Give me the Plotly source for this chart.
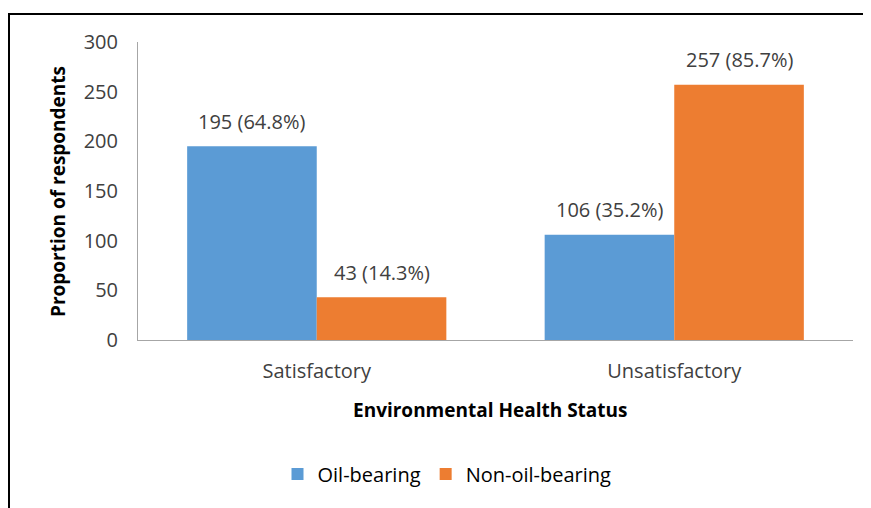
import plotly.graph_objects as go

categories = ["Satisfactory", "Unsatisfactory"]
oil_bearing = [195, 106]
non_oil_bearing = [43, 257]
oil_labels = ["195 (64.8%)", "106 (35.2%)"]
non_oil_labels = ["43 (14.3%)", "257 (85.7%)"]
y_ticks = [0, 50, 100, 150, 200, 250, 300]

FONT = "Open Sans"
BLUE = "#5B9BD5"
ORANGE = "#ED7D31"

fig = go.Figure()
fig.add_trace(go.Bar(name="Oil-bearing", x=categories, y=oil_bearing,
                     marker=dict(color=BLUE, line=dict(width=0))))
fig.add_trace(go.Bar(name="Non-oil-bearing", x=categories, y=non_oil_bearing,
                     marker=dict(color=ORANGE, line=dict(width=0))))

# page body has an 8px margin: figure coords = screen coords - 8
OFF = 8
W, H = 871 - OFF, 508 - OFF
L, T = 138 - OFF, 42 - OFF
R = W - (853 - OFF)
B = H - (340 - OFF)
pw, ph = W - L - R, H - T - B

def px(x):
    return (x - OFF - L) / pw

def py(y):
    return (H - B - (y - OFF)) / ph

annotations = []
half = (1 - 0.275) / 4
for i, c in enumerate(categories):
    annotations.append(dict(x=i - half, y=oil_bearing[i], xref="x", yref="y",
                            text=oil_labels[i], showarrow=False, yanchor="middle",
                            yshift=25, font=dict(family=FONT, size=20, color="#404040")))
    annotations.append(dict(x=i + half, y=non_oil_bearing[i], xref="x", yref="y",
                            text=non_oil_labels[i], showarrow=False, yanchor="middle",
                            yshift=25, font=dict(family=FONT, size=20, color="#404040")))

annotations.append(dict(x=px(58), y=py(192), xref="paper", yref="paper",
                        text="<b>Proportion of respondents</b>", textangle=-90,
                        showarrow=False, xanchor="center", yanchor="middle",
                        font=dict(family=FONT, size=19, color="#000000")))
annotations.append(dict(x=px(490), y=py(410), xref="paper", yref="paper",
                        text="<b>Environmental Health Status</b>",
                        showarrow=False, xanchor="center", yanchor="middle",
                        font=dict(family=FONT, size=19, color="#000000")))

shapes = [
    dict(type="line", xref="paper", yref="paper", x0=px(8), x1=px(900), y0=py(14), y1=py(14),
         line=dict(color="#000000", width=2)),
    dict(type="line", xref="paper", yref="paper", x0=px(9), x1=px(9), y0=py(13), y1=py(530),
         line=dict(color="#000000", width=2)),
]

fig.update_layout(
    width=W, height=H,
    margin=dict(l=L, r=R, t=T, b=B, autoexpand=False),
    paper_bgcolor="white", plot_bgcolor="white",
    barmode="group", bargap=0.275, bargroupgap=0,
    font=dict(family=FONT, size=20, color="#404040"),
    showlegend=True,
    legend=dict(orientation="h", x=px(447), y=py(474), xanchor="center", yanchor="middle",
                font=dict(family=FONT, size=20, color="#000000"), itemwidth=30,
                traceorder="normal"),
    annotations=annotations,
    shapes=shapes,
    xaxis=dict(showline=True, linecolor="#A6A6A6", linewidth=1, showgrid=False,
               ticks="", ticklabelstandoff=13, tickfont=dict(family=FONT, size=20, color="#404040"),
               zeroline=False),
    yaxis=dict(range=[0, 300], tickvals=y_ticks, showline=True, linecolor="#A6A6A6", linewidth=1,
               showgrid=False, zeroline=False, ticks="", ticklabelstandoff=15,
               tickfont=dict(family=FONT, size=20, color="#404040")),
)

fig.write_html("out.html")
